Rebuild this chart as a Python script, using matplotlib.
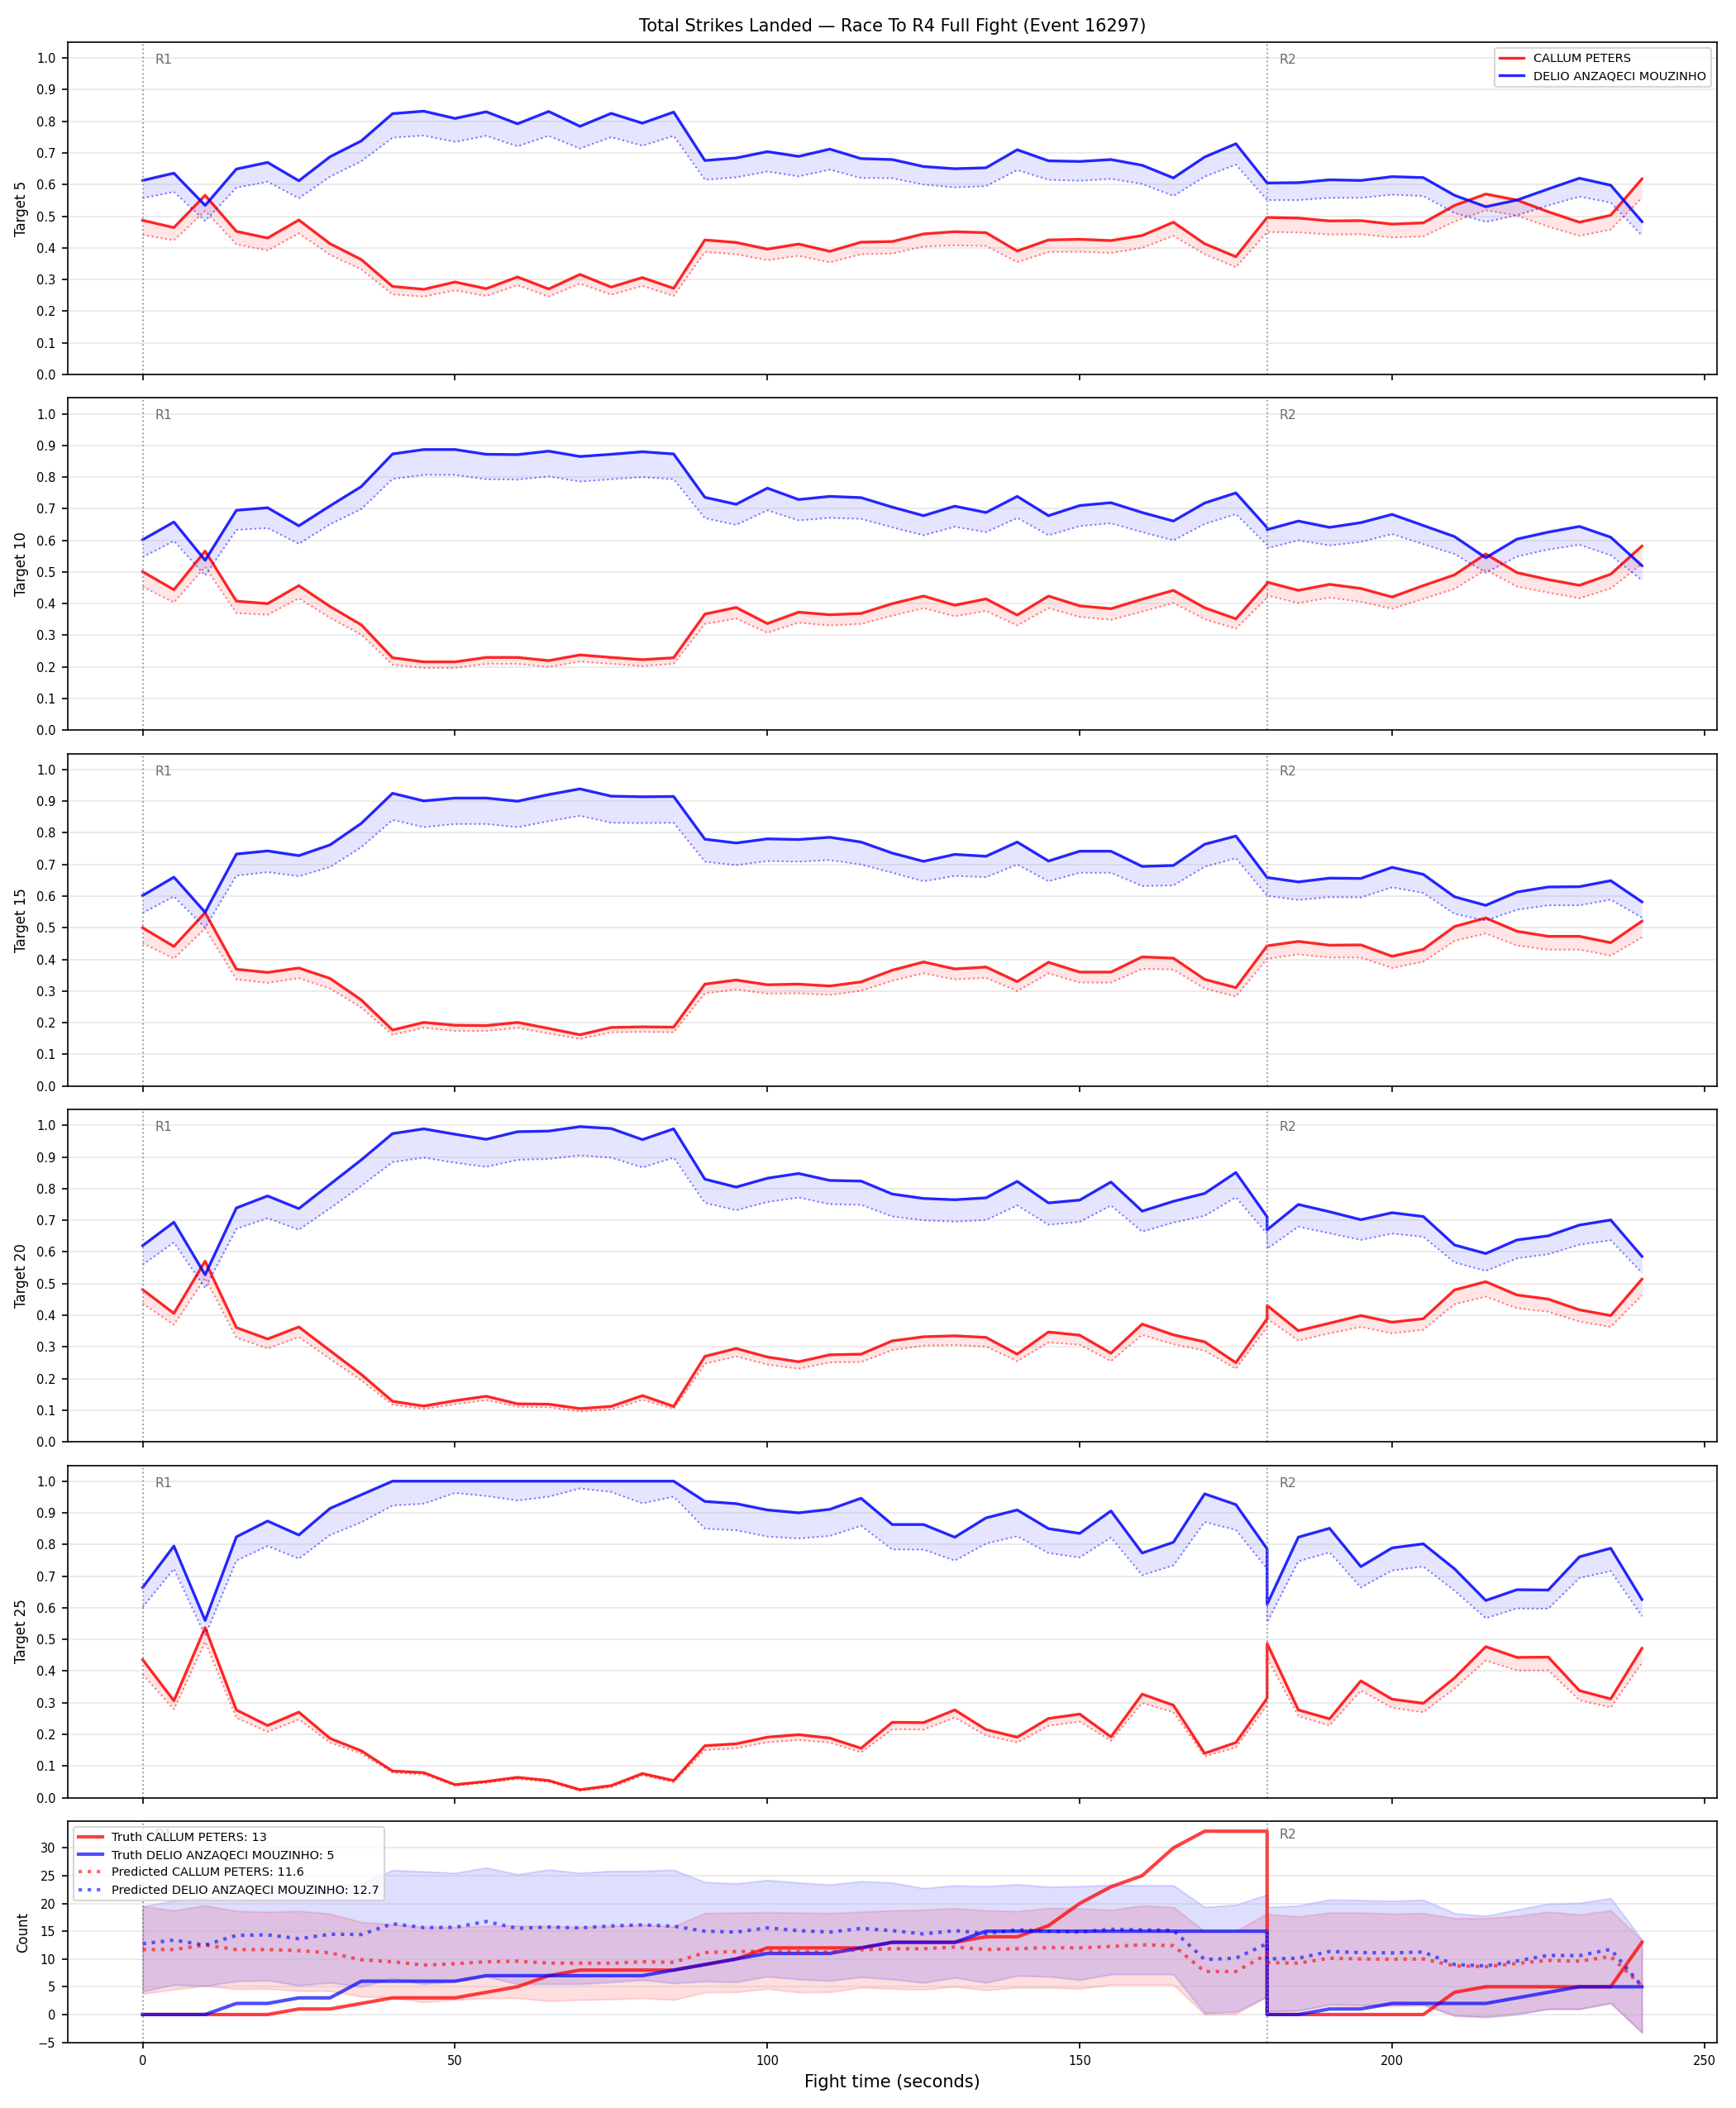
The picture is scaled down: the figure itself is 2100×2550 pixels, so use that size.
import matplotlib
matplotlib.use("Agg")
import matplotlib.pyplot as plt
import matplotlib.transforms as mtransforms

# time axis: round 1 (0-180) then round 2 restarts at 180
time_s = [0, 5, 10, 15, 20, 25, 30, 35, 40, 45, 50, 55, 60, 65, 70, 75, 80, 85,
          90, 95, 100, 105, 110, 115, 120, 125, 130, 135, 140, 145, 150, 155, 160,
          165, 170, 175, 180,
          180, 185, 190, 195, 200, 205, 210, 215, 220, 225, 230, 235, 240]

red_name = "CALLUM PETERS"
blue_name = "DELIO ANZAQECI MOUZINHO"
targets = [5, 10, 15, 20, 25]

# ---- Target 5 ----
blue_true_5 = [0.613, 0.636, 0.534, 0.649, 0.670, 0.612, 0.688, 0.738, 0.824, 0.832, 0.809, 0.830, 0.792, 0.831, 0.784, 0.825, 0.794, 0.829,
               0.676, 0.684, 0.704, 0.689, 0.712, 0.682, 0.679, 0.657, 0.650, 0.653, 0.710, 0.675, 0.673, 0.679, 0.661, 0.621, 0.687, 0.729, 0.605,
               0.605, 0.606, 0.615, 0.613, 0.625, 0.622, 0.566, 0.530, 0.551, 0.586, 0.620, 0.598, 0.483]
blue_pred_5 = [0.557, 0.577, 0.485, 0.590, 0.609, 0.557, 0.625, 0.674, 0.748, 0.755, 0.735, 0.754, 0.721, 0.754, 0.714, 0.750, 0.723, 0.754,
               0.615, 0.623, 0.641, 0.626, 0.647, 0.621, 0.620, 0.600, 0.591, 0.595, 0.646, 0.615, 0.612, 0.618, 0.602, 0.564, 0.625, 0.663, 0.551,
               0.551, 0.551, 0.558, 0.558, 0.568, 0.564, 0.510, 0.482, 0.503, 0.534, 0.562, 0.543, 0.439]
red_true_5 = [0.487, 0.464, 0.566, 0.452, 0.431, 0.488, 0.413, 0.363, 0.278, 0.269, 0.292, 0.271, 0.308, 0.270, 0.316, 0.276, 0.306, 0.272,
              0.425, 0.417, 0.396, 0.412, 0.389, 0.418, 0.420, 0.444, 0.451, 0.448, 0.390, 0.425, 0.427, 0.423, 0.439, 0.481, 0.413, 0.372, 0.496,
              0.496, 0.494, 0.485, 0.486, 0.475, 0.479, 0.534, 0.570, 0.551, 0.514, 0.481, 0.503, 0.618]
red_pred_5 = [0.441, 0.424, 0.517, 0.411, 0.392, 0.446, 0.378, 0.332, 0.253, 0.246, 0.266, 0.248, 0.282, 0.246, 0.287, 0.252, 0.280, 0.248,
              0.387, 0.380, 0.361, 0.375, 0.354, 0.380, 0.382, 0.404, 0.408, 0.406, 0.355, 0.387, 0.388, 0.384, 0.400, 0.438, 0.380, 0.339, 0.450,
              0.450, 0.449, 0.442, 0.443, 0.433, 0.436, 0.484, 0.519, 0.502, 0.467, 0.438, 0.458, 0.558]

# ---- Target 10 ----
blue_true_10 = [0.602, 0.658, 0.537, 0.695, 0.703, 0.646, 0.709, 0.770, 0.873, 0.887, 0.887, 0.872, 0.871, 0.882, 0.865, 0.872, 0.880, 0.873,
                0.736, 0.714, 0.765, 0.729, 0.739, 0.735, 0.705, 0.678, 0.708, 0.688, 0.739, 0.678, 0.710, 0.719, 0.688, 0.661, 0.718, 0.750, 0.640,
                0.634, 0.661, 0.641, 0.656, 0.682, 0.647, 0.612, 0.545, 0.604, 0.626, 0.644, 0.610, 0.520]
blue_pred_10 = [0.547, 0.598, 0.489, 0.633, 0.639, 0.589, 0.651, 0.699, 0.794, 0.807, 0.807, 0.793, 0.792, 0.802, 0.786, 0.793, 0.800, 0.793,
                0.670, 0.649, 0.695, 0.663, 0.671, 0.668, 0.641, 0.616, 0.643, 0.626, 0.671, 0.616, 0.645, 0.654, 0.626, 0.600, 0.652, 0.683, 0.585,
                0.575, 0.600, 0.584, 0.595, 0.620, 0.588, 0.557, 0.498, 0.549, 0.571, 0.586, 0.553, 0.474]
red_true_10 = [0.501, 0.444, 0.566, 0.408, 0.400, 0.457, 0.391, 0.333, 0.229, 0.216, 0.216, 0.230, 0.230, 0.220, 0.238, 0.230, 0.223, 0.229,
               0.367, 0.388, 0.337, 0.373, 0.365, 0.369, 0.400, 0.424, 0.395, 0.415, 0.364, 0.424, 0.393, 0.384, 0.414, 0.442, 0.387, 0.352, 0.463,
               0.468, 0.442, 0.461, 0.448, 0.421, 0.457, 0.491, 0.557, 0.498, 0.476, 0.458, 0.493, 0.582]
red_pred_10 = [0.453, 0.404, 0.516, 0.370, 0.365, 0.417, 0.355, 0.302, 0.207, 0.197, 0.197, 0.210, 0.210, 0.200, 0.217, 0.210, 0.203, 0.210,
               0.336, 0.353, 0.308, 0.340, 0.331, 0.336, 0.362, 0.386, 0.360, 0.377, 0.331, 0.386, 0.358, 0.349, 0.375, 0.402, 0.351, 0.321, 0.419,
               0.426, 0.402, 0.419, 0.406, 0.384, 0.415, 0.447, 0.507, 0.454, 0.435, 0.417, 0.448, 0.526]

# ---- Target 15 ----
blue_true_15 = [0.602, 0.660, 0.549, 0.733, 0.743, 0.728, 0.762, 0.830, 0.925, 0.901, 0.910, 0.910, 0.900, 0.921, 0.939, 0.916, 0.914, 0.915,
                0.780, 0.768, 0.781, 0.779, 0.786, 0.771, 0.736, 0.710, 0.732, 0.726, 0.771, 0.711, 0.742, 0.742, 0.694, 0.697, 0.764, 0.790, 0.659,
                0.659, 0.645, 0.657, 0.656, 0.691, 0.669, 0.598, 0.571, 0.613, 0.629, 0.630, 0.649, 0.582]
blue_pred_15 = [0.547, 0.599, 0.500, 0.665, 0.676, 0.663, 0.692, 0.755, 0.841, 0.818, 0.828, 0.828, 0.818, 0.837, 0.854, 0.832, 0.831, 0.832,
                0.709, 0.698, 0.711, 0.709, 0.714, 0.700, 0.674, 0.647, 0.664, 0.660, 0.700, 0.647, 0.674, 0.674, 0.632, 0.634, 0.693, 0.720, 0.601,
                0.601, 0.588, 0.597, 0.596, 0.628, 0.610, 0.544, 0.523, 0.557, 0.571, 0.571, 0.589, 0.532]
red_true_15 = [0.500, 0.441, 0.548, 0.369, 0.359, 0.373, 0.340, 0.272, 0.177, 0.201, 0.192, 0.191, 0.201, 0.182, 0.162, 0.185, 0.187, 0.186,
               0.322, 0.335, 0.320, 0.322, 0.316, 0.329, 0.366, 0.392, 0.370, 0.376, 0.330, 0.391, 0.360, 0.360, 0.408, 0.404, 0.337, 0.311, 0.443,
               0.443, 0.457, 0.445, 0.446, 0.410, 0.432, 0.504, 0.531, 0.489, 0.473, 0.473, 0.453, 0.521]
red_pred_15 = [0.451, 0.403, 0.498, 0.337, 0.326, 0.341, 0.308, 0.248, 0.162, 0.184, 0.174, 0.174, 0.184, 0.166, 0.149, 0.170, 0.171, 0.170,
               0.293, 0.305, 0.292, 0.293, 0.288, 0.301, 0.333, 0.356, 0.337, 0.342, 0.300, 0.356, 0.327, 0.327, 0.370, 0.368, 0.308, 0.283, 0.402,
               0.402, 0.416, 0.406, 0.406, 0.373, 0.393, 0.459, 0.482, 0.444, 0.431, 0.431, 0.412, 0.470]

# ---- Target 20 ----
blue_true_20 = [0.620, 0.694, 0.528, 0.739, 0.777, 0.737, 0.814, 0.891, 0.974, 0.989, 0.972, 0.956, 0.980, 0.982, 0.996, 0.990, 0.955, 0.989,
                0.830, 0.805, 0.833, 0.848, 0.826, 0.824, 0.783, 0.769, 0.765, 0.771, 0.823, 0.755, 0.764, 0.821, 0.729, 0.760, 0.785, 0.851, 0.711,
                0.670, 0.750, 0.727, 0.702, 0.724, 0.712, 0.622, 0.595, 0.638, 0.651, 0.685, 0.701, 0.586]
blue_pred_20 = [0.560, 0.630, 0.486, 0.673, 0.707, 0.670, 0.738, 0.809, 0.884, 0.898, 0.882, 0.869, 0.891, 0.894, 0.905, 0.898, 0.867, 0.898,
                0.755, 0.732, 0.758, 0.772, 0.751, 0.749, 0.712, 0.700, 0.696, 0.701, 0.747, 0.686, 0.695, 0.747, 0.664, 0.693, 0.714, 0.773, 0.657,
                0.610, 0.680, 0.659, 0.638, 0.658, 0.648, 0.567, 0.540, 0.580, 0.593, 0.623, 0.637, 0.534]
red_true_20 = [0.481, 0.406, 0.571, 0.361, 0.325, 0.363, 0.288, 0.213, 0.128, 0.113, 0.130, 0.144, 0.120, 0.119, 0.105, 0.112, 0.146, 0.112,
               0.270, 0.295, 0.268, 0.253, 0.275, 0.277, 0.319, 0.332, 0.335, 0.330, 0.277, 0.347, 0.337, 0.280, 0.372, 0.338, 0.316, 0.250, 0.389,
               0.431, 0.351, 0.375, 0.399, 0.378, 0.389, 0.480, 0.506, 0.464, 0.451, 0.417, 0.399, 0.514]
red_pred_20 = [0.437, 0.370, 0.518, 0.329, 0.295, 0.331, 0.262, 0.194, 0.117, 0.104, 0.119, 0.132, 0.111, 0.109, 0.096, 0.102, 0.133, 0.104,
               0.247, 0.270, 0.244, 0.231, 0.251, 0.252, 0.290, 0.304, 0.306, 0.301, 0.255, 0.314, 0.307, 0.255, 0.338, 0.308, 0.288, 0.231, 0.363,
               0.389, 0.320, 0.343, 0.363, 0.343, 0.354, 0.435, 0.459, 0.422, 0.411, 0.380, 0.363, 0.463]

# ---- Target 25 ----
blue_true_25 = [0.664, 0.795, 0.560, 0.824, 0.874, 0.830, 0.914, 0.957, 1.0, 1.0, 1.0, 1.0, 1.0, 1.0, 1.0, 1.0, 1.0, 1.0,
                0.936, 0.929, 0.909, 0.900, 0.911, 0.946, 0.863, 0.863, 0.823, 0.884, 0.909, 0.850, 0.835, 0.906, 0.773, 0.807, 0.960, 0.926, 0.786,
                0.611, 0.823, 0.851, 0.730, 0.789, 0.802, 0.723, 0.623, 0.657, 0.656, 0.761, 0.788, 0.626]
blue_pred_25 = [0.602, 0.723, 0.512, 0.749, 0.795, 0.755, 0.830, 0.870, 0.923, 0.929, 0.963, 0.953, 0.939, 0.951, 0.977, 0.966, 0.930, 0.951,
                0.850, 0.845, 0.825, 0.819, 0.827, 0.859, 0.784, 0.784, 0.749, 0.803, 0.826, 0.773, 0.759, 0.822, 0.703, 0.734, 0.871, 0.846, 0.723,
                0.554, 0.747, 0.775, 0.664, 0.718, 0.730, 0.654, 0.567, 0.598, 0.597, 0.694, 0.716, 0.573]
red_true_25 = [0.436, 0.306, 0.537, 0.277, 0.228, 0.270, 0.187, 0.148, 0.084, 0.079, 0.041, 0.051, 0.064, 0.054, 0.025, 0.038, 0.076, 0.054,
               0.164, 0.170, 0.191, 0.199, 0.188, 0.156, 0.238, 0.237, 0.277, 0.215, 0.191, 0.250, 0.264, 0.192, 0.327, 0.292, 0.140, 0.174, 0.314,
               0.487, 0.277, 0.249, 0.369, 0.311, 0.298, 0.378, 0.477, 0.443, 0.444, 0.338, 0.312, 0.472]
red_pred_25 = [0.389, 0.279, 0.493, 0.252, 0.208, 0.247, 0.174, 0.139, 0.079, 0.073, 0.038, 0.047, 0.059, 0.050, 0.022, 0.033, 0.070, 0.049,
               0.150, 0.156, 0.175, 0.182, 0.174, 0.143, 0.216, 0.215, 0.253, 0.196, 0.174, 0.227, 0.240, 0.180, 0.299, 0.270, 0.130, 0.159, 0.292,
               0.442, 0.257, 0.228, 0.338, 0.284, 0.270, 0.345, 0.433, 0.402, 0.402, 0.308, 0.285, 0.426]

# ---- Counts ----
red_count_true = [0, 0, 0, 0, 0, 1, 1, 2, 3, 3, 3, 4, 5, 7, 8, 8, 8, 8, 9, 10, 12, 12, 12, 12,
                  13, 13, 13, 14, 14, 16, 20, 23, 25, 30, 33, 33, 33,
                  0, 0, 0, 0, 0, 0, 4, 5, 5, 5, 5, 5, 13]
blue_count_true = [0, 0, 0, 2, 2, 3, 3, 6, 6, 6, 6, 7, 7, 7, 7, 7, 7, 8, 9, 10, 11, 11, 11, 12,
                   13, 13, 13, 15, 15, 15, 15, 15, 15, 15, 15, 15, 15,
                   0, 0, 1, 1, 2, 2, 2, 2, 3, 4, 5, 5, 5]
red_count_pred = [11.7, 11.7, 12.5, 11.7, 11.7, 11.5, 11.1, 9.85, 9.5, 8.9, 9.15, 9.5, 9.6, 9.25, 9.25, 9.25, 9.5, 9.4,
                  11.15, 11.35, 11.4, 11.35, 11.25, 11.65, 11.85, 11.85, 12.15, 11.7, 11.85, 12.05, 12.0, 12.25, 12.55, 12.4, 7.75, 7.75, 10.85,
                  9.35, 9.25, 10.15, 10.0, 9.95, 10.0, 8.75, 8.6, 9.2, 9.75, 9.6, 10.45, 5.15]
blue_count_pred = [12.75, 13.4, 12.5, 14.25, 14.35, 13.65, 14.45, 14.4, 16.35, 15.65, 15.7, 16.75, 15.5, 15.75, 15.6, 15.95, 16.15, 15.9,
                   15.0, 14.85, 15.6, 15.1, 14.85, 15.5, 15.1, 14.5, 15.1, 14.6, 15.25, 15.0, 14.85, 15.35, 15.25, 15.15, 9.9, 10.15, 12.75,
                   10.0, 10.15, 11.35, 11.15, 11.1, 11.25, 9.0, 8.75, 9.65, 10.65, 10.6, 11.75, 5.1]
red_count_hi = [19.5, 18.75, 19.65, 18.65, 18.5, 18.65, 18.15, 16.65, 16.25, 15.75, 15.75, 15.95, 16.0, 15.9, 15.75, 15.95, 16.15, 15.9,
                18.25, 18.35, 18.4, 18.35, 18.25, 18.5, 18.75, 18.85, 19.15, 18.75, 18.6, 19.15, 19.1, 18.85, 19.6, 19.35, 15.0, 15.0, 18.25,
                18.1, 17.65, 18.35, 18.35, 18.15, 18.25, 17.35, 17.35, 17.75, 18.5, 18.0, 18.75, 13.35]
red_count_lo = [3.75, 4.5, 5.15, 4.6, 4.65, 4.25, 4.25, 3.25, 3.0, 2.25, 2.65, 2.95, 2.95, 2.45, 2.65, 2.75, 2.95, 2.65,
                4.0, 4.05, 4.65, 4.0, 4.05, 4.85, 4.65, 4.5, 5.0, 4.4, 4.85, 4.85, 4.65, 5.4, 5.4, 5.4, 0.0, 0.1, 3.25,
                0.5, 0.65, 1.6, 1.5, 1.5, 1.65, -0.25, -0.35, 0.15, 1.0, 1.0, 2.0, -3.25]
blue_count_hi = [19.5, 20.5, 21.0, 21.5, 22.0, 22.5, 23.0, 23.6, 26.0, 25.75, 25.5, 26.45, 25.25, 26.1, 25.5, 25.85, 25.85, 26.05,
                 23.85, 23.6, 24.2, 23.75, 23.4, 24.0, 23.75, 22.75, 23.25, 23.1, 23.45, 23.0, 23.1, 23.35, 23.25, 23.25, 19.35, 19.75, 21.6,
                 19.35, 19.6, 20.7, 20.6, 20.45, 20.65, 18.25, 17.75, 18.9, 19.95, 20.1, 20.95, 13.5]
blue_count_lo = [4.15, 5.4, 5.15, 6.0, 6.15, 5.25, 5.75, 5.0, 6.5, 5.5, 6.0, 6.85, 5.5, 5.5, 5.5, 5.85, 6.25, 5.65,
                 6.0, 5.85, 6.85, 6.35, 6.1, 6.75, 6.35, 5.75, 6.65, 5.75, 7.0, 6.85, 6.25, 7.25, 7.25, 7.25, 0.25, 0.5, 3.25,
                 0.65, 0.75, 1.85, 1.75, 1.75, 1.85, -0.15, -0.5, 0.0, 1.0, 1.0, 2.1, -3.25]

target_series = {
    5: (red_true_5, red_pred_5, blue_true_5, blue_pred_5),
    10: (red_true_10, red_pred_10, blue_true_10, blue_pred_10),
    15: (red_true_15, red_pred_15, blue_true_15, blue_pred_15),
    20: (red_true_20, red_pred_20, blue_true_20, blue_pred_20),
    25: (red_true_25, red_pred_25, blue_true_25, blue_pred_25),
}

RED = "red"
BLUE = "blue"
round_starts = [(0, "R1"), (180, "R2")]


def mark_rounds(ax):
    trans = mtransforms.blended_transform_factory(ax.transData, ax.transAxes)
    for x, lab in round_starts:
        ax.axvline(x, color="gray", linestyle=":", linewidth=0.9, alpha=0.8)
        ax.text(x + 2, 0.965, lab, transform=trans, ha="left", va="top",
                fontsize=7.5, color="dimgray", zorder=1)


fig = plt.figure(figsize=(14, 17), dpi=150)
gs = fig.add_gridspec(6, 1, height_ratios=[1.5, 1.5, 1.5, 1.5, 1.5, 1.0], hspace=0.075)
axes = []
for i in range(6):
    ax = fig.add_subplot(gs[i], sharex=axes[0] if axes else None)
    axes.append(ax)
fig.subplots_adjust(left=0.039, right=0.989, top=0.98, bottom=0.031)

# 1. Target panels
for i, tgt in enumerate(targets):
    ax = axes[i]
    r_true, r_pred, b_true, b_pred = target_series[tgt]
    ax.fill_between(time_s, r_true, r_pred, color=RED, alpha=0.1, linewidth=0)
    ax.fill_between(time_s, b_true, b_pred, color=BLUE, alpha=0.1, linewidth=0)
    ax.plot(time_s, r_true, color=RED, linewidth=1.6, alpha=0.85, label=red_name)
    ax.plot(time_s, b_true, color=BLUE, linewidth=1.6, alpha=0.85, label=blue_name)
    ax.plot(time_s, r_pred, color=RED, linewidth=1.0, linestyle=":", alpha=0.5)
    ax.plot(time_s, b_pred, color=BLUE, linewidth=1.0, linestyle=":", alpha=0.5)
    mark_rounds(ax)
    ax.set_ylim(0, 1.05)
    ax.set_yticks([0.0, 0.1, 0.2, 0.3, 0.4, 0.5, 0.6, 0.7, 0.8, 0.9, 1.0])
    ax.set_ylabel(f"Target {tgt}", fontsize=8)
    ax.grid(True, axis="y", alpha=0.3)
    ax.tick_params(labelsize=7)
    ax.tick_params(axis="x", labelbottom=False)
    if i == 0:
        ax.set_title("Total Strikes Landed — Race To R4 Full Fight (Event 16297)", fontsize=10)
        ax.legend(loc="upper right", fontsize="x-small")

# 2. Count panel
ax = axes[5]
ax.fill_between(time_s, red_count_lo, red_count_hi, color=RED, alpha=0.13)
ax.fill_between(time_s, blue_count_lo, blue_count_hi, color=BLUE, alpha=0.13)
ax.plot(time_s, red_count_true, color=RED, linewidth=2, alpha=0.75,
        label=f"Truth {red_name}: {red_count_true[-1]}")
ax.plot(time_s, blue_count_true, color=BLUE, linewidth=2, alpha=0.7,
        label=f"Truth {blue_name}: {blue_count_true[-1]}")
ax.plot(time_s, red_count_pred, color=RED, linewidth=2, linestyle=":", alpha=0.6,
        label=f"Predicted {red_name}: 11.6")
ax.plot(time_s, blue_count_pred, color=BLUE, linewidth=2, linestyle=":", alpha=0.6,
        label=f"Predicted {blue_name}: 12.7")
mark_rounds(ax)
ax.set_ylabel("Count", fontsize=8)
ax.grid(True, axis="y", alpha=0.3)
ax.tick_params(labelsize=7)
leg = ax.legend(loc="upper left", fontsize="x-small")
leg.set_zorder(5)
ax.set_xlabel("Fight time (seconds)", fontsize=10)

plt.savefig("out.png", dpi=150)
